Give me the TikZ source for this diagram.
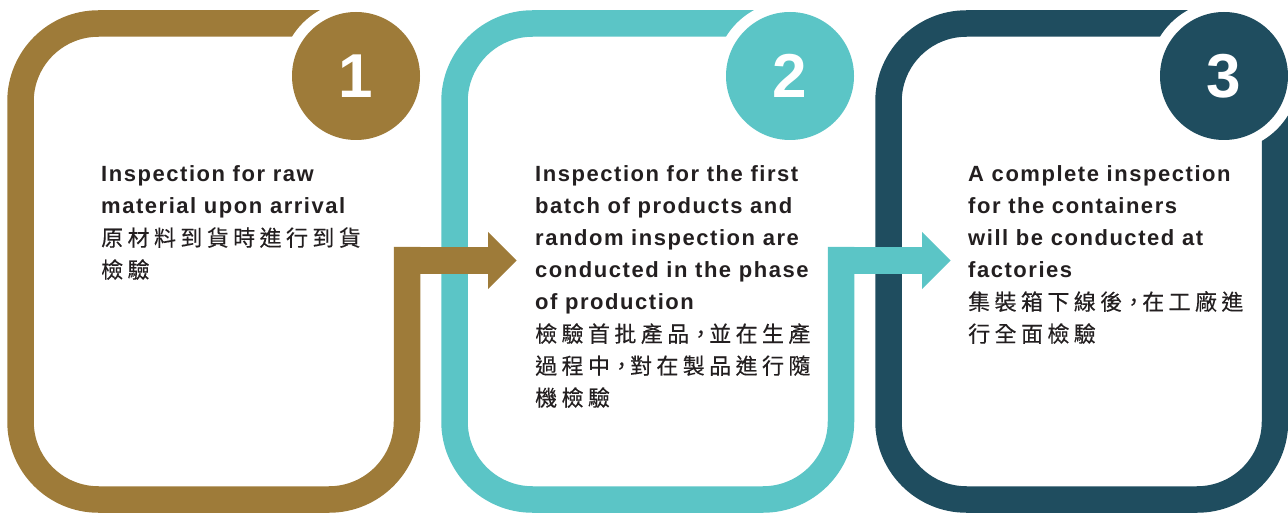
\documentclass[tikz,border=0pt]{standalone}
\usepackage{fontspec}
\setmainfont{Liberation Sans}
\newfontfamily\entext[LetterSpace=7]{Liberation Sans}
\newfontfamily\cjktext[LetterSpace=20,FakeBold=0.3]{Noto Sans CJK TC}
\newfontfamily\numfont{Liberation Sans}
\newcommand\en{\entext\bfseries\fontsize{22}{32}\selectfont}
\newcommand\cj{\cjktext\fontsize{22}{32}\selectfont}
\newcommand\cm{\makebox[20pt][l]{\hspace{0.5pt}，}}
\definecolor{cbrown}{HTML}{9E7B39}
\definecolor{cteal}{HTML}{5BC5C6}
\definecolor{cdark}{HTML}{1F4D5F}
\definecolor{ctext}{HTML}{231F20}
\begin{document}
\begin{tikzpicture}[x=1pt,y=-1pt,
  frame/.style={line width=26.5pt, rounded corners=78pt},
  bar/.style={line width=27pt},
  badge/.style={circle, minimum size=128pt, inner sep=0pt, text=white,
    font=\numfont\bfseries\fontsize{62}{62}\selectfont},
  body/.style={anchor=base west, inner sep=0pt, text=ctext,
    font=\fontsize{22}{32}\selectfont}]
\useasboundingbox (0,0) rectangle (1288,513);

% panel 3
\draw[frame, cdark] (1200,23.5) -- (888.5,23.5) -- (888.5,499.5) -- (1275,499.5) -- (1275,105);
\fill[white] (1224,76) circle[radius=75pt];
\node[badge, fill=cdark] (n3) at (1224,76) {3};

% panel 2
\draw[frame, cteal] (766,23.5) -- (454.5,23.5) -- (454.5,499.5) -- (841,499.5) -- (841,247);
\draw[bar, cteal] (827.75,260.5) -- (922.5,260.5);
\fill[cteal] (922,232) -- (950.5,260.5) -- (922,289) -- cycle;
\fill[white] (790,76) circle[radius=75pt];
\node[badge, fill=cteal] (n2) at (790,76) {2};

% panel 1
\draw[frame, cbrown] (332,23.5) -- (20.5,23.5) -- (20.5,499.5) -- (407,499.5) -- (407,247);
\draw[bar, cbrown] (393.75,260.5) -- (488.5,260.5);
\fill[cbrown] (488,232) -- (516.5,260.5) -- (488,289) -- cycle;
\fill[white] (356,76) circle[radius=75pt];
\node[badge, fill=cbrown] (n1) at (356,76) {1};

% texts
\node[body] (t1) at (101,182) {\begin{tabular}[t]{@{}l@{}}
\en Inspection for raw\\
\en material upon arrival\\
\cj 原材料到貨時進行到貨\\
\cj 檢驗\end{tabular}};
\node[body] (t2) at (535,182) {\begin{tabular}[t]{@{}l@{}}
\en Inspection for the first\\
\en batch of products and\\
\en random inspection are\\
\en conducted in the phase\\
\en of production\\
\cj 檢驗首批產品\cm 並在生產\\
\cj 過程中\cm 對在製品進行隨\\
\cj 機檢驗\end{tabular}};
\node[body] (t3) at (968,182) {\begin{tabular}[t]{@{}l@{}}
\en A complete inspection\\
\en for the containers\\
\en will be conducted at\\
\en factories\\
\cj 集裝箱下線後\cm 在工廠進\\
\cj 行全面檢驗\end{tabular}};
\end{tikzpicture}
\end{document}
